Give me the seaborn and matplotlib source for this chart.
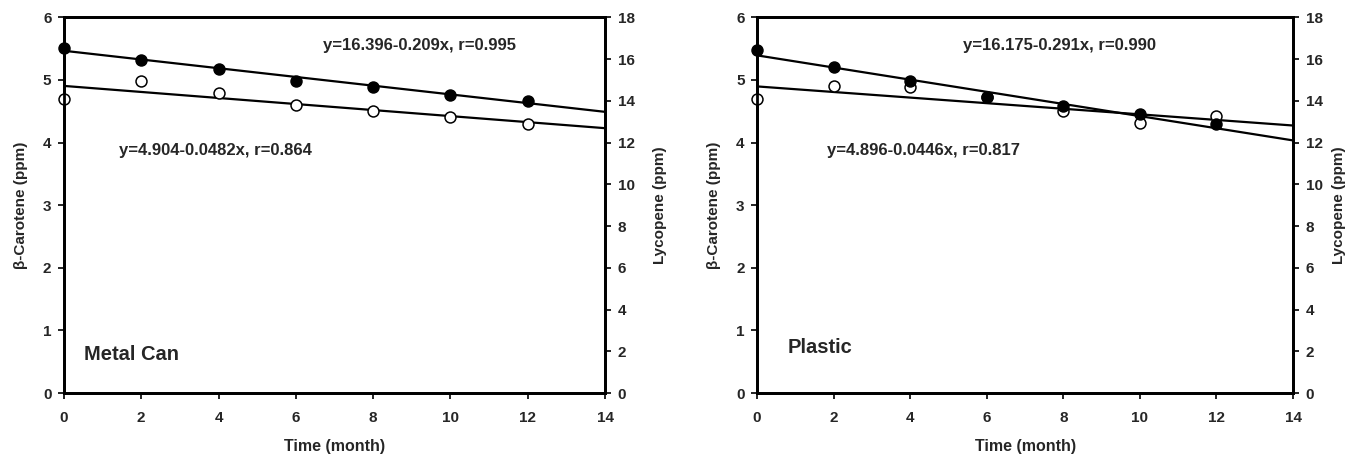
import matplotlib
matplotlib.use("Agg")
import matplotlib.pyplot as plt
import seaborn as sns
import numpy as np
import pandas as pd

# storage time (months)
months = [0, 2, 4, 6, 8, 10, 12]

# metal can
metal_beta = [4.70, 4.99, 4.79, 4.60, 4.50, 4.41, 4.30]
metal_lyco = [16.53, 15.96, 15.51, 14.97, 14.67, 14.28, 14.01]

# plastic
plastic_beta = [4.70, 4.90, 4.89, 4.72, 4.50, 4.31, 4.42]
plastic_lyco = [16.41, 15.63, 14.94, 14.19, 13.74, 13.35, 12.90]

# regression coefficients (intercept, slope)
metal_beta_fit = (4.904, -0.0482)
metal_lyco_fit = (16.396, -0.209)
plastic_beta_fit = (4.896, -0.0446)
plastic_lyco_fit = (16.175, -0.291)

panel_names = ["Metal Can", "Plastic"]
beta_eqs = ["y=4.904-0.0482x, r=0.864", "y=4.896-0.0446x, r=0.817"]
lyco_eqs = ["y=16.396-0.209x, r=0.995", "y=16.175-0.291x, r=0.990"]

sns.set_style("white")
plt.rcParams["font.family"] = ["Liberation Sans", "DejaVu Sans"]
plt.rcParams["font.weight"] = "bold"

fig = plt.figure(figsize=(13.52, 4.61), dpi=100)
axes = [fig.add_axes([0.0473, 0.1475, 0.4002, 0.815]),
        fig.add_axes([0.5600, 0.1475, 0.3964, 0.815])]

panels = [
    (metal_beta, metal_lyco, metal_beta_fit, metal_lyco_fit),
    (plastic_beta, plastic_lyco, plastic_beta_fit, plastic_lyco_fit),
]
eq_pos = [((6.7, 5.55), (1.42, 3.88)), ((5.38, 5.55), (1.83, 3.88))]
name_pos = [(0.52, 0.62), (0.8, 0.72)]
right_pad = [13, 7]

line_x = np.array([0, 14])

for i, ax in enumerate(axes):
    beta, lyco, bfit, lfit = panels[i]
    ax2 = ax.twinx()

    df = pd.DataFrame({"month": months, "beta": beta, "lyco": lyco})
    fits = pd.DataFrame({"month": line_x,
                         "beta": bfit[0] + bfit[1] * line_x,
                         "lyco": lfit[0] + lfit[1] * line_x})

    sns.lineplot(data=fits, x="month", y="beta", ax=ax, color="black",
                 linewidth=1.6, zorder=2)
    sns.lineplot(data=fits, x="month", y="lyco", ax=ax2, color="black",
                 linewidth=1.6, zorder=2)
    sns.scatterplot(data=df, x="month", y="beta", ax=ax, marker="o", s=62,
                    facecolor="white", edgecolor="black", linewidth=1.1,
                    zorder=3, clip_on=False)
    sns.scatterplot(data=df, x="month", y="lyco", ax=ax2, marker="o", s=62,
                    color="black", edgecolor="black", linewidth=1.1,
                    zorder=3, clip_on=False)

    ax.set_xlim(0, 14)
    ax.set_ylim(0, 6)
    ax2.set_ylim(0, 18)
    ax.set_xticks(range(0, 15, 2))
    ax.set_yticks(range(0, 7))
    ax2.set_yticks(range(0, 19, 2))

    ax.set_xlabel("Time (month)", fontsize=11.5, fontweight="bold", labelpad=10)
    ax.set_ylabel("β-Carotene (ppm)", fontsize=11, fontweight="bold", labelpad=11)
    ax2.set_ylabel("Lycopene (ppm)", fontsize=11, fontweight="bold",
                   labelpad=right_pad[i])

    for a in (ax, ax2):
        for sp in a.spines.values():
            sp.set_linewidth(2.0)
            sp.set_color("black")
        a.tick_params(length=4, width=1.2, color="black", labelsize=11, pad=5)
    ax.tick_params(axis="y", direction="out", left=True, right=False)
    ax.tick_params(axis="x", direction="out", bottom=True, pad=9)
    ax2.tick_params(axis="y", direction="out", right=True)
    for lab in ax.get_xticklabels() + ax.get_yticklabels() + ax2.get_yticklabels():
        lab.set_fontweight("bold")

    (lx, ly), (bx, by) = eq_pos[i]
    ax.text(lx, ly, lyco_eqs[i], fontsize=12, fontweight="bold", va="center")
    ax.text(bx, by, beta_eqs[i], fontsize=12, fontweight="bold", va="center")
    nx, ny = name_pos[i]
    ax.text(nx, ny, panel_names[i], fontsize=14.5, fontweight="bold", va="center")

fig.savefig("out.png", dpi=100)
